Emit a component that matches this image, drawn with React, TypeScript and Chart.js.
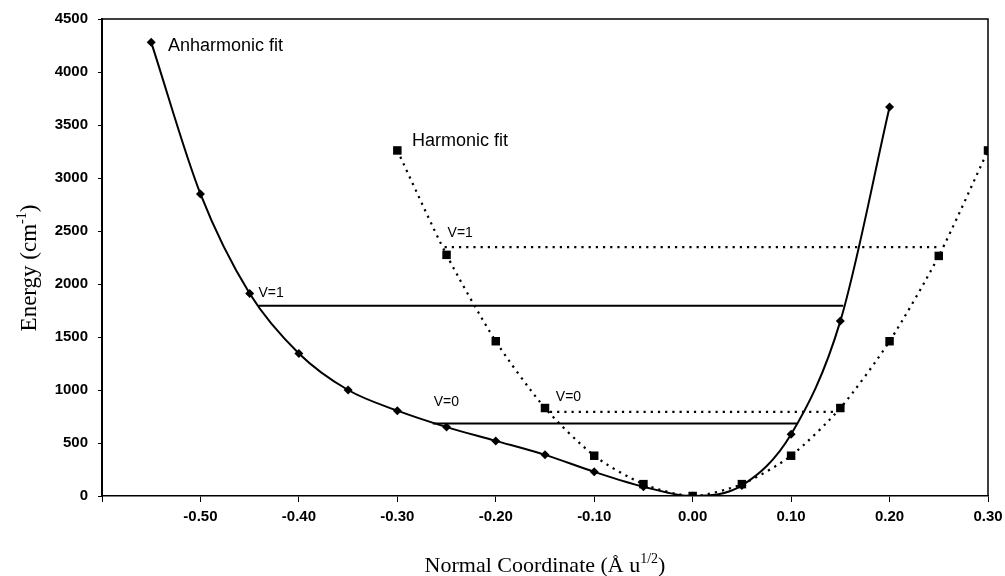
import React, { useEffect, useRef } from "react";
import { Chart, registerables } from "chart.js";

Chart.register(...registerables);

// Anharmonic fit (diamonds, solid smooth curve)
const anhX = [-0.55, -0.5, -0.45, -0.4, -0.35, -0.3, -0.25, -0.2, -0.15, -0.1, -0.05, 0, 0.05, 0.1, 0.15, 0.2];
const anhE = [4280, 2850, 1910, 1345, 1000, 805, 650, 520, 388, 228, 88, 0, 100, 583, 1650, 3670];

// Harmonic fit (squares, dotted line)
const harX = [-0.3, -0.25, -0.2, -0.15, -0.1, -0.05, 0, 0.05, 0.1, 0.15, 0.2, 0.25, 0.3];
const harE = [3260, 2275, 1460, 830, 380, 112, 0, 112, 380, 830, 1460, 2265, 3260];

// Vibrational levels
const anhV1X = [-0.441, 0.153];
const anhV1E = 1795;
const anhV0X = [-0.264, 0.106];
const anhV0E = 684;
const harV1X = [-0.252, 0.248];
const harV1E = 2347;
const harV0X = [-0.145, 0.143];
const harV0E = 794;

// Annotations
const noteText = ["Anharmonic fit", "Harmonic fit", "V=1", "V=1", "V=0", "V=0"];
const noteX = [-0.533, -0.285, -0.441, -0.249, -0.263, -0.139];
const noteE = [4247, 3352, 1911, 2476, 885, 932];
const noteSize = [18, 18, 14, 14, 14, 14];

const xTickMin = -0.6;
const xTickMax = 0.3;
const yTickMax = 4500;

const sans = "'Liberation Sans', Arial, sans-serif";
const serif = "'Liberation Serif', 'Times New Roman', serif";

const pts = (xs: number[], ys: number[]) => xs.map((x, i) => ({ x, y: ys[i] }));
const level = (xs: number[], e: number) => xs.map((x) => ({ x, y: e }));

function drawSupText(
  ctx: CanvasRenderingContext2D,
  parts: { t: string; sup?: boolean }[],
  size: number,
  cx: number,
  cy: number
) {
  const supSize = Math.round(size * 0.62);
  let total = 0;
  const widths = parts.map((p) => {
    ctx.font = `${p.sup ? supSize : size}px ${serif}`;
    const w = ctx.measureText(p.t).width;
    total += w;
    return w;
  });
  let x = cx - total / 2;
  ctx.textBaseline = "alphabetic";
  ctx.textAlign = "left";
  parts.forEach((p, i) => {
    ctx.font = `${p.sup ? supSize : size}px ${serif}`;
    ctx.fillText(p.t, x, cy + size * 0.33 - (p.sup ? size * 0.42 : 0));
    x += widths[i];
  });
}

const overlay = {
  id: "overlay",
  afterDraw(chart: any) {
    const { ctx, chartArea, scales } = chart;
    const xs = scales.x;
    const ys = scales.y;
    ctx.save();
    // top and right frame
    ctx.strokeStyle = "#000";
    ctx.lineWidth = 1.5;
    ctx.beginPath();
    ctx.moveTo(chartArea.left, chartArea.top);
    ctx.lineTo(chartArea.right, chartArea.top);
    ctx.lineTo(chartArea.right, chartArea.bottom);
    ctx.stroke();

    // annotations
    ctx.fillStyle = "#000";
    ctx.textAlign = "left";
    ctx.textBaseline = "middle";
    noteText.forEach((t, i) => {
      ctx.font = `${noteSize[i]}px ${sans}`;
      ctx.fillText(t, xs.getPixelForValue(noteX[i]), ys.getPixelForValue(noteE[i]));
    });

    // x axis title
    drawSupText(
      ctx,
      [{ t: "Normal Coordinate (Å u" }, { t: "1/2", sup: true }, { t: ")" }],
      22,
      (chartArea.left + chartArea.right) / 2,
      565
    );

    // y axis title
    ctx.save();
    ctx.translate(28, 268);
    ctx.rotate(-Math.PI / 2);
    drawSupText(ctx, [{ t: "Energy (cm" }, { t: "-1", sup: true }, { t: ")" }], 23, 0, 0);
    ctx.restore();
    ctx.restore();
  },
};

export default function App() {
  const ref = useRef<HTMLCanvasElement | null>(null);

  useEffect(() => {
    document.body.style.margin = "0";
    if (!ref.current) return;
    const chart = new Chart(ref.current, {
      type: "scatter",
      data: {
        datasets: [
          {
            label: "Anharmonic fit",
            data: pts(anhX, anhE),
            showLine: true,
            borderColor: "#000",
            backgroundColor: "#000",
            borderWidth: 2,
            cubicInterpolationMode: "monotone",
            pointStyle: "rectRot",
            pointRadius: 4.5,
            pointBorderWidth: 0,
          },
          {
            label: "Harmonic fit",
            data: pts(harX, harE),
            showLine: true,
            borderColor: "#000",
            backgroundColor: "#000",
            borderWidth: 2.2,
            borderDash: [2.2, 5],
            tension: 0.25,
            pointStyle: "rect",
            pointRadius: 6,
            pointBorderWidth: 0,
          },
          {
            label: "anh V=1",
            data: level(anhV1X, anhV1E),
            showLine: true,
            borderColor: "#000",
            borderWidth: 1.8,
            pointRadius: 0,
          },
          {
            label: "anh V=0",
            data: level(anhV0X, anhV0E),
            showLine: true,
            borderColor: "#000",
            borderWidth: 1.8,
            pointRadius: 0,
          },
          {
            label: "har V=1",
            data: level(harV1X, harV1E),
            showLine: true,
            borderColor: "#000",
            borderWidth: 2.2,
            borderDash: [2.2, 5],
            pointRadius: 0,
          },
          {
            label: "har V=0",
            data: level(harV0X, harV0E),
            showLine: true,
            borderColor: "#000",
            borderWidth: 2.2,
            borderDash: [2.2, 5],
            pointRadius: 0,
          },
        ],
      },
      options: {
        animation: false,
        responsive: true,
        maintainAspectRatio: false,
        layout: { padding: { left: 0, right: 17, top: 18, bottom: 0 } },
        plugins: {
          legend: { display: false },
          tooltip: { enabled: false },
          title: { display: false },
        },
        scales: {
          x: {
            type: "linear",
            min: xTickMin,
            max: xTickMax,
            afterFit: (s: any) => {
              s.height = 80;
              s.paddingRight = 0;
              s.paddingLeft = 0;
            },
            ticks: {
              stepSize: 0.1,
              color: "#000",
              padding: 6,
              maxRotation: 0,
              font: { family: sans, size: 15, weight: "bold" },
              callback: (v: any) => {
                const n = Number(v);
                if (Math.abs(n - xTickMin) < 1e-9) return "";
                if (Math.abs(n) < 1e-9) return "0.00";
                return n.toFixed(2);
              },
            },
            grid: {
              drawOnChartArea: false,
              drawTicks: true,
              tickLength: 6,
              color: "#000",
            },
            border: { color: "#000", width: 1.5 },
          },
          y: {
            type: "linear",
            min: 0,
            max: yTickMax,
            afterFit: (s: any) => {
              s.width = 102;
            },
            ticks: {
              stepSize: 500,
              color: "#000",
              padding: 10,
              font: { family: sans, size: 15, weight: "bold" },
              callback: (v: any) => String(Math.round(Number(v))),
            },
            grid: {
              drawOnChartArea: false,
              drawTicks: true,
              tickLength: 4,
              color: "#000",
            },
            border: { color: "#000", width: 2 },
          },
        },
      },
      plugins: [overlay],
    } as any);
    return () => chart.destroy();
  }, []);

  return (
    <div style={{ width: 1005, height: 576, position: "relative", background: "#fff" }}>
      <canvas ref={ref} />
    </div>
  );
}
